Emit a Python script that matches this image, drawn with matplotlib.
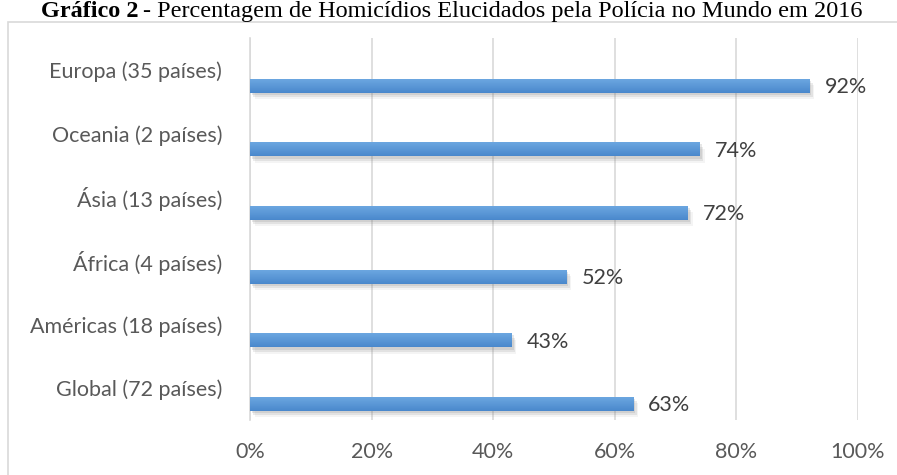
import numpy as np
import matplotlib.pyplot as plt
import matplotlib.patheffects as pe
from matplotlib.colors import LinearSegmentedColormap
from matplotlib.patches import Rectangle

# Dados (de baixo para cima)
regioes = ["Global (72 países)", "Américas (18 países)", "África (4 países)",
           "Ásia (13 países)", "Oceania (2 países)", "Europa (35 países)"]
valores = [63, 43, 52, 72, 74, 92]
ticks_x = [0, 20, 40, 60, 80, 100]

W, H = 897, 475
fig = plt.figure(figsize=(W/100, H/100), dpi=100)

# Moldura do gráfico (só lados esquerdo e superior visíveis)
fig.patches.append(Rectangle((8/W, -0.1), 1.2, (H-22)/H + 0.1, transform=fig.transFigure,
                             fill=False, edgecolor="#d9d9d9", linewidth=1.2))

ax = fig.add_axes([250/W, (H-420)/H, (858-250)/W, (420-38)/H])

y = np.arange(len(regioes))
off = 0.25
alt = 0.22

sombra = [pe.SimplePatchShadow(offset=(1.5, -1.5), shadow_rgbFace="#7f7f7f", alpha=0.18),
          pe.SimplePatchShadow(offset=(2.5, -3), shadow_rgbFace="#7f7f7f", alpha=0.15),
          pe.SimplePatchShadow(offset=(3.5, -4.5), shadow_rgbFace="#7f7f7f", alpha=0.08),
          pe.Normal()]

barras = ax.barh(y - off, valores, height=alt, color="#5b9bd5", zorder=3)

# Gradiente nas barras
cmap = LinearSegmentedColormap.from_list("azul", ["#4a88cc", "#6ea9e2"])
grad = np.linspace(0, 1, 64).reshape(-1, 1)
for b in barras:
    b.set_path_effects(sombra)
    x0, y0 = b.get_x(), b.get_y()
    im = ax.imshow(grad, extent=[x0, x0 + b.get_width(), y0, y0 + b.get_height()],
                   origin="lower", aspect="auto", cmap=cmap, zorder=4)
    im.set_clip_path(b)

for yi, v in zip(y, valores):
    ax.annotate(f"{v}%", (v, yi - off), xytext=(11, -1), textcoords="offset points",
                va="center", ha="left", fontsize=15.5, color="#404040", family="Lato")

ax.set_xlim(0, 100)
ax.set_ylim(-0.5, len(regioes) - 0.5)
ax.set_xticks(ticks_x)
ax.set_xticklabels([f"{t}%" for t in ticks_x])
ax.set_yticks(y)
ax.set_yticklabels(regioes)
ax.tick_params(axis="both", length=0, labelsize=15.5, labelcolor="#595959")
ax.tick_params(axis="y", pad=20)
ax.tick_params(axis="x", pad=16)
for lab in ax.get_xticklabels() + ax.get_yticklabels():
    lab.set_family("Lato")

ax.grid(axis="x", color="#d9d9d9", linewidth=1.2, zorder=0)
ax.set_axisbelow(True)
for s in ["top", "right", "bottom"]:
    ax.spines[s].set_visible(False)
ax.spines["left"].set_color("#d9d9d9")
ax.spines["left"].set_linewidth(1.2)

# Título
t2 = fig.text(862/W, (H-17)/H, "- Percentagem de Homicídios Elucidados pela Polícia no Mundo em 2016",
              ha="right", va="baseline", fontsize=17.5, family="Liberation Serif", color="black")
fig.canvas.draw()
bb = t2.get_window_extent()
fig.text((bb.x0 - 4)/W, (H-17)/H, "Gráfico 2", ha="right", va="baseline", fontsize=17.5,
         family="Liberation Serif", fontweight="bold", color="black")

fig.savefig("out.png", dpi=100)
